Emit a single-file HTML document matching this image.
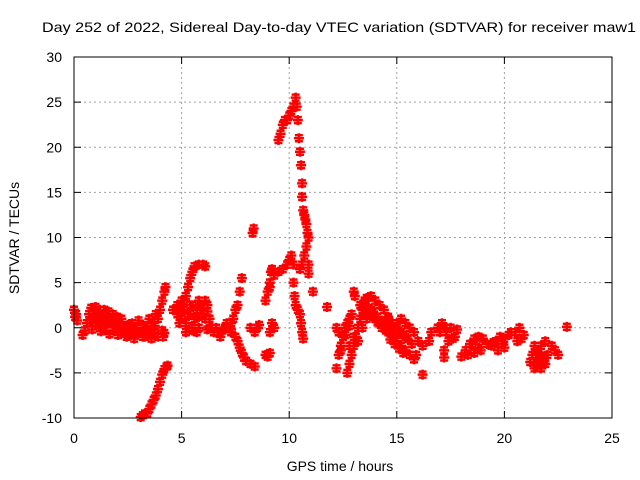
<!DOCTYPE html>
<html><head><meta charset="utf-8"><style>body{margin:0;background:#fff}svg{display:block;font-family:"Liberation Sans",sans-serif}</style></head>
<body>
<svg id="chart" width="640" height="480" xmlns="http://www.w3.org/2000/svg">
<rect width="640" height="480" fill="#fff"/>
<text x="42" y="32" font-size="14" textLength="594" lengthAdjust="spacingAndGlyphs">Day 252 of 2022, Sidereal Day-to-day VTEC variation (SDTVAR) for receiver maw1</text>
<g id="grid"></g>
<g id="points"></g>
<rect x="74" y="57" width="538" height="361" fill="none" stroke="#000" stroke-width="1"/>
<g id="ticks"></g>
<text x="340" y="471" font-size="14" text-anchor="middle">GPS time / hours</text>
<text transform="translate(19,238) rotate(-90)" font-size="14" text-anchor="middle">SDTVAR / TECUs</text>
</svg>
<script>
const xTicks=[0,5,10,15,20,25];
const yTicks=[-10,-5,0,5,10,15,20,25,30];
const hours=[0,0.05,0.1,0.15,0.4,0.5,0.6,0.7,0.8,0.9,1.0,1.1,1.2,1.3,1.4,1.5,1.6,1.7,1.8,1.9,2.0,2.1,2.2,2.3,2.4,2.5,2.6,2.7,2.8,2.9,3.0,3.1,3.2,3.3,3.4,3.5,3.6,3.7,3.8,3.9,4.0,4.1,4.2,4.25,
1.0,1.3,1.5,1.8,2.2,2.5,2.8,3.2,3.6,3.9,4.1,4.2,4.14,
3.1,3.2,3.3,3.4,3.5,3.6,3.7,3.8,3.9,4.0,4.1,4.2,4.3,4.35,
4.6,4.8,5.0,5.1,5.2,5.3,5.4,5.5,5.6,5.8,6.0,6.1,
4.8,5.0,5.2,5.4,5.5,5.6,5.7,5.8,5.9,6.0,6.1,6.2,6.3,6.4,6.5,6.6,6.7,6.8,6.9,7.0,7.1,7.2,7.3,
7.3,7.4,7.5,7.6,7.7,7.8,
7.3,7.5,7.6,7.7,7.8,7.9,8.0,8.2,8.4,5.2,5.5,5.8,6.2,
8.2,8.4,8.5,8.6,8.3,8.35,8.9,9.0,9.1,9.1,9.2,9.3,
8.9,9.0,9.1,9.15,9.3,9.5,9.7,9.9,10.0,10.1,10.2,9.1,9.2,
10.2,10.25,10.3,10.4,10.5,10.55,10.6,10.65,
9.5,9.6,9.7,9.8,9.9,10.0,10.1,10.2,10.3,10.35,10.4,10.45,10.5,10.55,10.6,10.6,10.65,10.7,10.75,10.8,10.85,10.9,10.8,10.7,10.6,10.5,10.9,10.9,11.1,11.76,
12.2,12.3,12.4,12.5,12.6,12.7,12.8,12.9,12.3,12.2,
12.7,12.8,12.9,13.0,13.1,13.2,13.3,13.4,13.5,13.6,13.8,14.0,14.2,14.4,14.6,14.8,15.0,15.2,15.4,
12.8,13.0,13.2,13.4,13.6,13.8,14.0,14.2,14.4,14.6,14.8,15.0,15.2,15.4,15.6,15.8,13.0,13.05,
14.6,14.8,15.0,15.2,15.4,15.6,15.8,16.0,16.2,15.9,16.5,16.6,16.2,
16.9,17.1,17.3,17.5,17.7,17.4,17.8,17.2,17.2,
18.0,18.2,18.4,18.6,18.8,19.0,19.2,18.3,18.6,18.9,
19.4,19.6,19.8,20.0,20.2,19.7,20.0,20.3,
20.5,20.7,20.9,20.6,20.8,
21.3,21.5,21.7,21.9,21.5,21.7,21.9,22.0,21.4,21.8,21.6,21.2,
22.2,22.35,22.5,22.9,
0.75,0.95,1.15,1.35,1.55,1.75,1.95,2.15,2.35,2.55,2.75,2.95,3.15,3.35,3.55,3.75,
0.85,1.25,1.65,2.05,2.45,2.85,3.25,3.65,
4.9,5.1,5.3,5.5,5.7,5.9,6.1,6.3,5.0,5.4,5.8,6.2,
13.3,13.5,13.7,13.9,14.1,14.3,14.5,14.7,14.9,15.1,15.3,15.5,15.7,
13.5,13.7,13.9,14.1,14.3,14.5,14.7,14.9,15.1,15.3,
12.4,12.6,12.8,
17.0,17.3,17.6,18.5,18.8,19.5,19.9,21.4,21.6,21.8,21.5,21.7];
const sdtvar=[2,1.2,1.5,0.8,-0.8,-0.3,0.5,1.5,2.2,1.8,2.3,1.6,2.0,1.5,2.0,1.2,1.8,1.0,1.5,0.8,1.2,0.5,1.0,0.2,-0.5,0.3,-0.3,0.5,-0.8,0,0.8,-0.5,0.3,-1,0.2,1,0.5,-0.2,1.5,1,2,3,4,4.5,
0.5,0,-0.3,-0.3,-0.5,-0.8,-1.2,-1.0,-1.2,-1.0,-0.3,-0.6,-1.0,
-9.9,-9.7,-9.5,-9.5,-9.0,-8.5,-8,-7.5,-6.8,-6,-5.2,-4.6,-4.3,-4.2,
2,2.5,2,3,3.5,4.5,5.5,6.2,6.8,7,7,6.8,
1.5,1,0.5,1.5,0,1,2,3,2.5,1.5,3,2.5,1,0,-0.5,0,-0.5,-1,-0.3,0,0.5,0,-0.5,
0.5,1,2,2.5,4,5.5,
-0.2,-1,-1.5,-2.2,-2.8,-3.3,-3.7,-4,-4.3,-0.5,-0.3,0,-0.2,
0,-0.5,0,0.3,10.5,11,-3,-3.2,-2.8,-0.5,0.5,0,
3,4,5,6.2,5.8,6.2,6.5,7,7.5,8,7,4.5,6.5,
5,3.5,2.5,2,1.5,0.5,-0.5,-1.2,
20.8,21.5,22.5,23,23,23.5,24,24.5,25.5,24.5,23,21,19.5,18,16,14.5,13,12.5,12,11.5,10.5,10,9,8,7,6.5,7,6,4,2.3,
-4.5,-3,-2,-1,0,0.5,1,1.5,-0.5,0,
-5,-4,-3,-2,-1,0,1,2,2.8,3.3,3.5,3,2.5,2,1.2,0.5,0,-0.5,-1,
-2,-1,-1.5,0,1,2,1,0.5,0,-0.5,-1,-1.5,-2,-2.5,-3,-3.5,4,3.5,
1,0,0.5,1,0.5,0,-0.5,-1.5,-2,-3,-1.5,-0.5,-5.2,
0,0.5,-0.5,0,-1,-1.5,-0.2,-2.5,-3.3,
-3.2,-2.5,-1.8,-1.2,-1,-1.2,-1.8,-3,-2.8,-2.5,
-2,-1.5,-1,-1.2,-0.8,-2.5,-2.2,-0.5,
-0.5,0,-0.8,-1.5,-1.2,
-3,-2.5,-2,-1.5,-4,-4.5,-4,-3,-4.5,-3.2,-3.5,-3.8,
-2,-2.5,-3,0.1,
0.8,1.0,0.6,1.0,0.5,0.7,0.3,0.2,-0.2,0.1,-0.3,-0.5,-0.6,-0.4,-0.3,0.2,
-0.2,-0.4,-0.7,-0.8,-1.0,-0.5,-0.6,-0.7,
0.5,2.0,1.5,2.5,-0.5,2.0,1.0,0.0,3.0,2.5,1.2,1.8,
2.5,3.0,2.2,1.8,1.2,0.8,0.3,0.0,-0.3,-0.6,-0.8,-1.2,-1.8,
1.5,2.0,1.2,0.6,0.0,-0.3,-1.3,-1.8,-2.3,-2.8,
-2.5,-0.8,0.2,
-0.5,0.0,-1.2,-1.8,-2.2,-1.6,-1.8,-2.0,-3.0,-3.8,-4.2,-3.6];
const NS="http://www.w3.org/2000/svg";
function xs(v){return 74+v*(538/25);}
function ys(v){return 418-(v+10)*(361/40);}
const grid=document.getElementById('grid'),ticks=document.getElementById('ticks'),pts=document.getElementById('points');
function mk(tag,attrs,parent){const e=document.createElementNS(NS,tag);for(const k in attrs)e.setAttribute(k,attrs[k]);parent.appendChild(e);return e;}
xTicks.forEach(t=>{const x=xs(t);
 if(t>0&&t<25){const g=mk('line',{x1:x,y1:57,x2:x,y2:418,stroke:'#a0a0a0','stroke-dasharray':'2,3'},grid);
 
 }
 const tk=mk('path',{d:`M${x},418v-7M${x},57v7`,stroke:'#000'},ticks);
 
 
 const l=mk('text',{x:x,y:443,'font-size':14,'text-anchor':'middle'},ticks);l.textContent=t;
 
 
});
yTicks.forEach(t=>{const y=ys(t);
 if(t>-10&&t<30){const g=mk('line',{x1:74,y1:y,x2:612,y2:y,stroke:'#a0a0a0','stroke-dasharray':'2,3'},grid);
 
 }
 const tk=mk('path',{d:`M74,${y}h7M612,${y}h-7`,stroke:'#000'},ticks);
 
 
 const l=mk('text',{x:62,y:y+5,'font-size':14,'text-anchor':'end'},ticks);l.textContent=t;
 
 
});
let d='';
for(let i=0;i<hours.length;i++){const x=xs(hours[i]),y=ys(sdtvar[i]);
 d+=`M${x-5},${y}h10M${x},${y-5}v10M${x-4},${y-3}h8M${x-4},${y+3}h8`;}
const p=mk('path',{d:d,stroke:'#ff0000','stroke-width':2.5,fill:'none'},pts);


</script>
</body></html>
